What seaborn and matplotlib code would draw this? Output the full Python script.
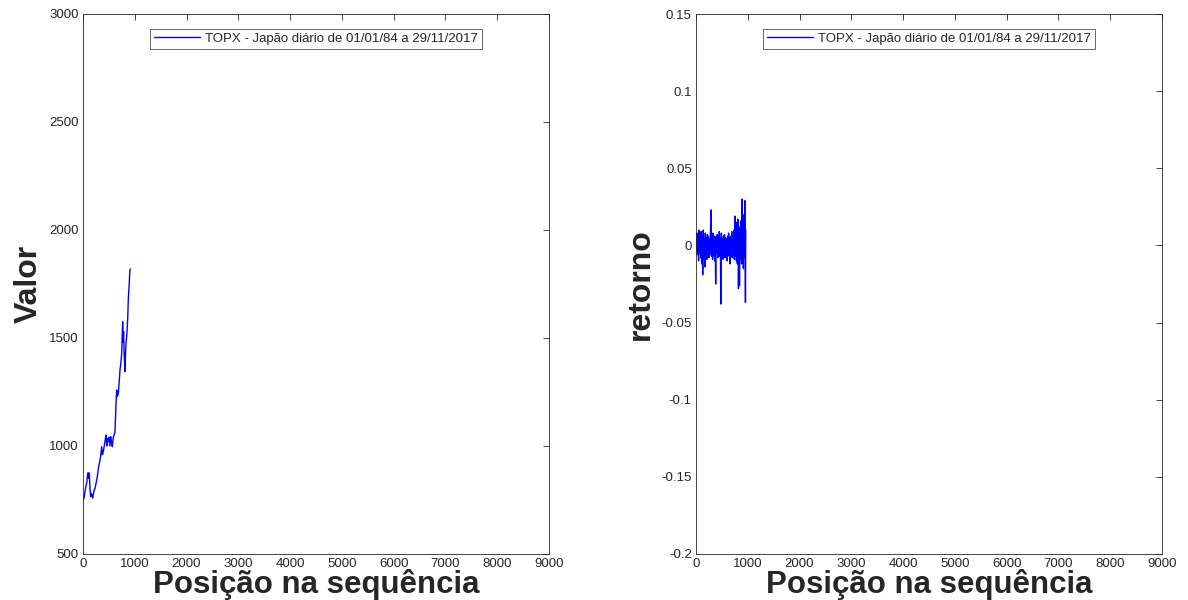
import numpy as np
import pandas as pd
import matplotlib
matplotlib.use("Agg")
import matplotlib.pyplot as plt
import seaborn as sns
from matplotlib.ticker import FuncFormatter

sns.set_theme(style="white")
plt.rcParams['font.family'] = ['Liberation Sans', 'DejaVu Sans']

legend_label = "TOPX - Japão diário de 01/01/84 a 29/11/2017"
xlabel = "Posição na sequência"

price_idx = [0, 19, 40, 60, 71, 85, 97, 110, 122, 135, 148, 165, 187, 210, 232, 255, 276,
             300, 328, 345, 360, 376, 392, 410, 430, 444, 460, 475, 489, 505, 520, 534, 550,
             566, 585, 600, 618, 635, 650, 665, 682, 700, 714, 730, 747, 756, 766, 775, 784,
             792, 800, 811, 820, 830, 842, 855, 865, 875, 882, 893, 900, 907, 912]
price_val = [750, 758, 790, 820, 827, 860, 876, 850, 875, 800, 765, 780, 759, 790, 805, 830, 858,
             900, 935, 960, 997, 960, 974, 1000, 1030, 1051, 1000, 1035, 1020, 1040, 1000, 1043, 1020,
             997, 1040, 1050, 1066, 1180, 1259, 1230, 1244, 1300, 1352, 1380, 1429, 1500, 1575, 1480, 1530,
             1444, 1400, 1344, 1420, 1477, 1500, 1552, 1600, 1680, 1707, 1750, 1790, 1815, 1820]

ret_idx = list(range(0, 890, 10)) + [885, 895, 905, 915, 925, 935, 945, 955, 960]
ret_idx = sorted(set(ret_idx))
ret_val = [0.003, -0.004, 0.008, -0.006, 0.005, -0.010, 0.010, -0.005, 0.007, -0.008,
           0.009, -0.012, 0.006, -0.019, 0.010, -0.008, 0.004, -0.014, 0.008, -0.006,
           0.005, -0.009, 0.007, -0.005, 0.006, -0.008, 0.004, -0.006, 0.010, 0.023,
           -0.007, 0.006, -0.009, 0.008, -0.006, 0.006, -0.010, 0.005, -0.025, 0.006,
           -0.005, 0.007, -0.008, 0.006, -0.006, 0.009, -0.007, 0.005, -0.038, 0.008,
           -0.006, 0.004, -0.009, 0.006, -0.005, 0.007, -0.008, 0.005, -0.006, 0.004,
           -0.010, 0.006, -0.005, 0.008, -0.007, 0.005, -0.012, 0.006, -0.005, 0.009,
           -0.008, 0.006, -0.006, 0.010, -0.009, 0.019, -0.007, 0.008, -0.010, 0.015,
           -0.012, 0.017, -0.028, 0.010, -0.026, 0.012, -0.009, 0.016, -0.012,
           0.030, -0.010, 0.020, -0.015, 0.014, -0.008, 0.029, -0.037, 0.010]
ret_idx = ret_idx[:len(ret_val)]

df_p = pd.DataFrame({"x": price_idx, "y": price_val})
df_r = pd.DataFrame({"x": ret_idx, "y": ret_val})

fig = plt.figure(figsize=(11.88, 6), dpi=100)
ax1 = fig.add_axes([83/1188, 1-554/600, (549-83)/1188, 540/600])
ax2 = fig.add_axes([696/1188, 1-554/600, (1162-696)/1188, 540/600])

sns.lineplot(data=df_p, x="x", y="y", ax=ax1, color="#0000FF", linewidth=1.0, sort=False,
             label=legend_label)
sns.lineplot(data=df_r, x="x", y="y", ax=ax2, color="#0000FF", linewidth=1.0, sort=False,
             label=legend_label)


def gfmt(v, p):
    r = round(v, 4)
    if abs(r) < 1e-9:
        r = 0.0
    return "%g" % r


fmt = FuncFormatter(gfmt)
for ax, yl, ylim, yt in [(ax1, "Valor", (500, 3000), np.arange(500, 3001, 500)),
                         (ax2, "retorno", (-0.2, 0.15), np.arange(-0.2, 0.1501, 0.05))]:
    ax.set_xlim(0, 9000)
    ax.set_ylim(*ylim)
    ax.set_xticks(np.arange(0, 9001, 1000))
    ax.set_yticks(yt)
    ax.yaxis.set_major_formatter(fmt)
    ax.tick_params(direction="in", length=4, width=0.6, top=True, right=True,
                   labelsize=9.5, colors="#262626", pad=3)
    for s in ax.spines.values():
        s.set_color("#262626")
        s.set_linewidth(0.6)
    ax.set_xlabel(xlabel, fontsize=22.5, fontweight="bold", color="#262626", labelpad=-1)
    ax.set_ylabel(yl, fontsize=23, fontweight="bold", color="#262626", labelpad=4)
    leg = ax.legend(loc="upper center", bbox_to_anchor=(0.5, 0.985), fontsize=9.5,
                    frameon=True, fancybox=False, borderpad=0.3, handlelength=3.5,
                    handletextpad=0.4)
    leg.get_frame().set_edgecolor("#262626")
    leg.get_frame().set_linewidth(0.6)

fig.savefig("out.png", dpi=100)
